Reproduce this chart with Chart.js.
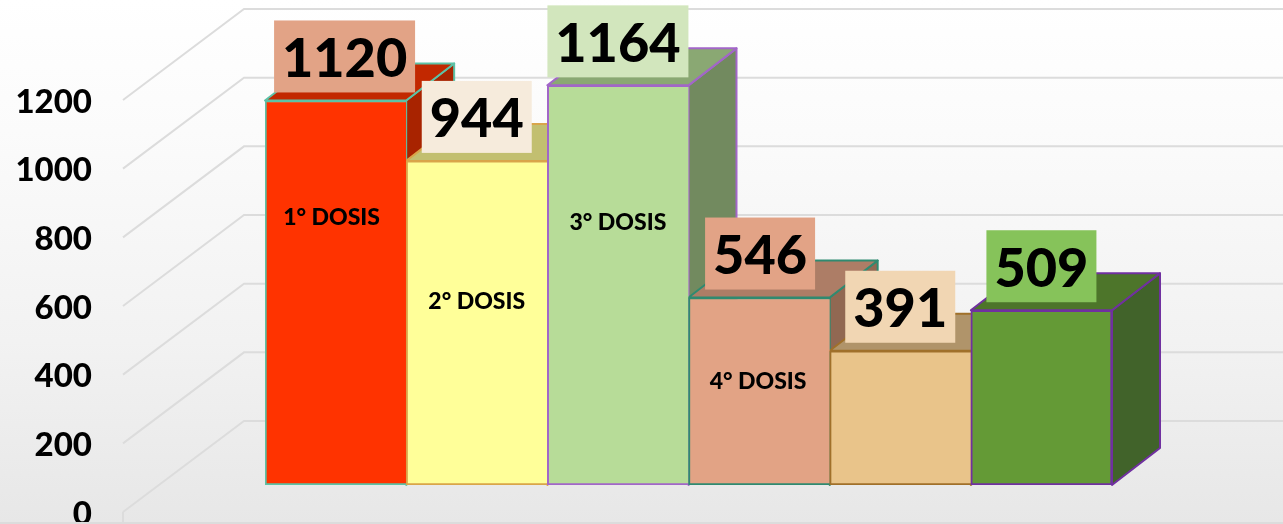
<!DOCTYPE html>
<html><head><meta charset="utf-8">
<style>
html,body{margin:0;padding:0;width:1283px;height:524px;overflow:hidden;background:linear-gradient(180deg,#ffffff 0%,#fbfbfb 25%,#f2f2f2 65%,#e7e7e7 100%);}
canvas{display:block;}
</style>
<script src="https://cdn.jsdelivr.net/npm/chart.js@4"></script>
</head><body>
<canvas id="c" width="1283" height="524"></canvas>
<script>
const categories = ["1° DOSIS","2° DOSIS","3° DOSIS","4° DOSIS","",""];
const doses = [1120,944,1164,546,391,509];
const yTicks = [0,200,400,600,800,1000,1200];
// value height at which each inner caption sits
const captionAt = [783,536,766,303,null,null];

const frontColors = ["#ff3300","#ffff99","#b7dc98","#e2a385","#e9c48a","#649a36"];
const topColors   = ["#c22800","#c2bf70","#8aa873","#ad7d66","#b0946a","#4d752a"];
const sideColors  = ["#a82300","#b9b66a","#728a5f","#916852","#a0875f","#41632a"];
const edgeColors  = ["#5cc2a6","#d9a54a","#a266c8","#2f8a70","#a0702a","#7030a0"];
const boxColors   = ["#e2a386","#f6ebdc","#d2e6bd","#e2a386","#f1d6b3","#86c35a"];
const boxShift    = [9,0,0,1,0,0];
const captionShift = [-4,0,0,-1,0,0];

const FONT = 'Lato, "Open Sans", sans-serif';
const DX = 48, DY = -37;

const depth3d = {
  id:'depth3d',
  beforeDatasetsDraw(chart){
    const {ctx,scales:{y}} = chart;
    ctx.save();
    ctx.strokeStyle='#dcdcdc'; ctx.lineWidth=2;
    yTicks.forEach(t=>{
      const p=y.getPixelForValue(t);
      ctx.beginPath();
      ctx.moveTo(123,p+27); ctx.lineTo(244,p-64); ctx.lineTo(1283,p-64);
      ctx.stroke();
    });
    const p0=y.getPixelForValue(0);
    ctx.beginPath(); ctx.moveTo(123,p0+27); ctx.lineTo(123,p0+38); ctx.stroke();
    ctx.beginPath(); ctx.moveTo(0,p0+38); ctx.lineTo(1283,p0+38); ctx.stroke();
    chart.getDatasetMeta(0).data.forEach((b,i)=>{
      const l=b.x-b.width/2, r=b.x+b.width/2, t=b.y, bo=b.base;
      ctx.lineWidth=2; ctx.lineJoin='round'; ctx.strokeStyle=edgeColors[i];
      ctx.fillStyle=sideColors[i];
      ctx.beginPath(); ctx.moveTo(r,t); ctx.lineTo(r+DX,t+DY); ctx.lineTo(r+DX,bo+DY); ctx.lineTo(r,bo); ctx.closePath();
      ctx.fill(); ctx.stroke();
      ctx.fillStyle=topColors[i];
      ctx.beginPath(); ctx.moveTo(l,t); ctx.lineTo(l+DX,t+DY); ctx.lineTo(r+DX,t+DY); ctx.lineTo(r,t); ctx.closePath();
      ctx.fill(); ctx.stroke();
    });
    ctx.restore();
  },
  afterDatasetsDraw(chart){
    const {ctx,scales:{y}} = chart;
    ctx.save();
    ctx.textAlign='center'; ctx.textBaseline='middle';
    const meta=chart.getDatasetMeta(0).data;
    meta.forEach((b,i)=>{
      if(captionAt[i]!==null){
        ctx.fillStyle='#000'; ctx.font='900 23px '+FONT;
        ctx.fillText(categories[i], b.x+captionShift[i], y.getPixelForValue(captionAt[i])+1);
      }
    });
    meta.forEach((b,i)=>{
      const w=String(doses[i]).length>3?141:110, h=72;
      const cx=b.x+boxShift[i], bot=b.y-8;
      ctx.fillStyle=boxColors[i];
      ctx.fillRect(cx-w/2,bot-h,w,h);
      ctx.fillStyle='#000'; ctx.font='900 54px '+FONT;
      ctx.fillText(String(doses[i]),cx,bot-h/2+3);
    });
    ctx.restore();
  }
};

const noPad = s => { s.paddingTop=0; s.paddingBottom=0; s.paddingLeft=0; s.paddingRight=0; };

new Chart(document.getElementById('c'),{
  type:'bar',
  data:{labels:categories,datasets:[{
    data:doses,
    backgroundColor:frontColors,
    borderColor:edgeColors,
    borderWidth:2,
    borderSkipped:c=>c.dataIndex<5?'right':false,
    barPercentage:1,categoryPercentage:1
  }]},
  options:{
    responsive:false,animation:false,
    layout:{padding:{left:0,right:171,top:73,bottom:39}},
    plugins:{legend:{display:false},tooltip:{enabled:false},title:{display:false}},
    scales:{
      x:{display:false,afterFit:noPad},
      y:{min:0,max:1200,
        afterFit(s){s.width=265;noPad(s);},
        grid:{display:false,drawTicks:false},border:{display:false},
        afterBuildTicks(s){s.ticks=yTicks.map(v=>({value:v}));},
        ticks:{padding:173,labelOffset:29,autoSkip:false,color:'#000',font:{family:FONT,size:33,weight:'900'},callback:v=>String(v)}
      }
    }
  },
  plugins:[depth3d]
});
</script>
</body></html>
